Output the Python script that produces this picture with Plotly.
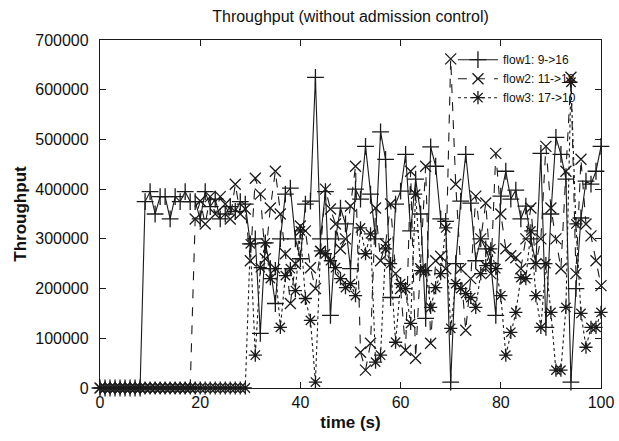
import plotly.graph_objects as go

time_s = list(range(0, 101))

flow1 = [0]*9 + [
    375000, 395000, 350000, 385000, 385000, 340000, 385000, 375000, 395000, 375000,  # 9-18
    375000, 340000, 395000, 365000, 380000, 340000, 350000, 365000, 355000, 375000,  # 19-28
    370000, 290000, 300000, 110000, 292000, 240000, 170000, 300000, 390000, 402000,  # 29-38
    300000, 260000, 370000, 376000, 625000, 300000, 395000, 146000, 300000, 362000,  # 39-48
    330000, 240000, 400000, 380000, 486000, 390000, 300000, 515000, 460000, 182000,  # 49-58
    370000, 396000, 470000, 316000, 420000, 350000, 140000, 485000, 446000, 340000,  # 59-68
    335000, 12000, 250000, 376000, 470000, 372000, 256000, 300000, 280000, 250000,   # 69-78
    146000, 386000, 436000, 380000, 398000, 340000, 366000, 300000, 250000, 472000,  # 79-88
    122000, 350000, 504000, 470000, 420000, 12000, 200000, 342000, 416000, 410000,   # 89-98
    436000, 486000,                                                                   # 99-100
]

flow2 = [0]*19 + [
    340000, 376000, 330000, 385000, 350000, 385000, 370000, 340000, 410000, 350000,  # 19-28
    360000, 256000, 422000, 390000, 260000, 362000, 436000, 350000, 270000, 170000,  # 29-38
    250000, 326000, 316000, 242000, 200000, 275000, 400000, 360000, 330000, 280000,  # 39-48
    300000, 366000, 446000, 72000, 36000, 90000, 362000, 256000, 290000, 370000,     # 49-58
    230000, 200000, 76000, 436000, 60000, 240000, 446000, 90000, 256000, 265000,     # 59-68
    240000, 662000, 410000, 240000, 116000, 220000, 386000, 300000, 372000, 230000,  # 69-78
    472000, 350000, 280000, 266000, 262000, 240000, 300000, 362000, 250000, 300000,  # 79-88
    486000, 362000, 300000, 240000, 436000, 625000, 230000, 460000, 330000, 306000,  # 89-98
    256000, 206000,                                                                   # 99-100
]

flow3 = [0]*30 + [
    290000, 66000, 242000, 292000, 220000, 240000, 122000, 226000, 240000, 196000,   # 30-39
    316000, 180000, 136000, 12000, 276000, 270000, 256000, 242000, 220000, 202000,   # 40-49
    210000, 186000, 322000, 270000, 310000, 52000, 66000, 280000, 250000, 92000,     # 50-59
    210000, 200000, 130000, 390000, 236000, 236000, 162000, 202000, 230000, 322000,  # 60-69
    120000, 210000, 200000, 190000, 182000, 162000, 230000, 246000, 280000, 240000,  # 70-79
    186000, 66000, 112000, 152000, 222000, 220000, 316000, 186000, 122000, 250000,   # 80-89
    152000, 36000, 36000, 162000, 615000, 330000, 150000, 82000, 122000, 122000,     # 90-99
    152000,                                                                           # 100
]

series_names = ["flow1: 9->16", "flow2: 11->18", "flow3: 17->10"]
x_ticks = [0, 20, 40, 60, 80, 100]
y_ticks = [0, 100000, 200000, 300000, 400000, 500000, 600000, 700000]

ink = "#1a1a1a"
fig = go.Figure()
styles = [
    (flow1, "solid", "cross-thin-open", 12),
    (flow2, "dash", "x-thin-open", 11),
    (flow3, "dot", "asterisk-open", 11),
]
for name, (vals, dash, sym, size) in zip(series_names, styles):
    fig.add_trace(go.Scatter(
        x=time_s, y=vals, name=name, mode="lines+markers",
        line=dict(color=ink, width=1.1, dash=dash),
        marker=dict(symbol=sym, size=size, color=ink, line=dict(color=ink, width=1.3)),
        cliponaxis=False,
    ))

font = "Liberation Sans, Arial, sans-serif"
fig.update_layout(
    width=619, height=441,
    margin=dict(l=100, r=18, t=40, b=53, autoexpand=False),
    paper_bgcolor="white", plot_bgcolor="white",
    font=dict(family=font, color="#111", size=16),
    title=dict(text="Throughput (without admission control)", x=0.5, xanchor="center",
               xref="paper", y=0.962, yanchor="middle", yref="container",
               font=dict(size=16, family=font, color="#111")),
    showlegend=True,
    legend=dict(x=0.96, y=0.985, xanchor="right", yanchor="top",
                bgcolor="rgba(0,0,0,0)", font=dict(size=12, family=font),
                tracegroupgap=0, itemwidth=40),
)
fig.update_xaxes(
    range=[0, 100], tickvals=x_ticks, ticks="inside", ticklen=6, tickcolor=ink,
    showline=True, linecolor=ink, linewidth=1.3, mirror="ticks", automargin=False,
    showgrid=False, zeroline=False,
    title=dict(text="<b>time (s)</b>", font=dict(size=17, family=font), standoff=5),
    tickfont=dict(size=16),
)
fig.update_yaxes(
    range=[0, 700000], tickvals=y_ticks, tickformat="d", ticks="inside", ticklen=6,
    tickcolor=ink, showline=True, linecolor=ink, linewidth=1.3, mirror="ticks",
    automargin=False, showgrid=False, zeroline=False, ticklabelstandoff=7,
    title=dict(text="<b>Throughput</b>", font=dict(size=17, family=font), standoff=4),
    tickfont=dict(size=16),
)

fig.write_html("out.html")
